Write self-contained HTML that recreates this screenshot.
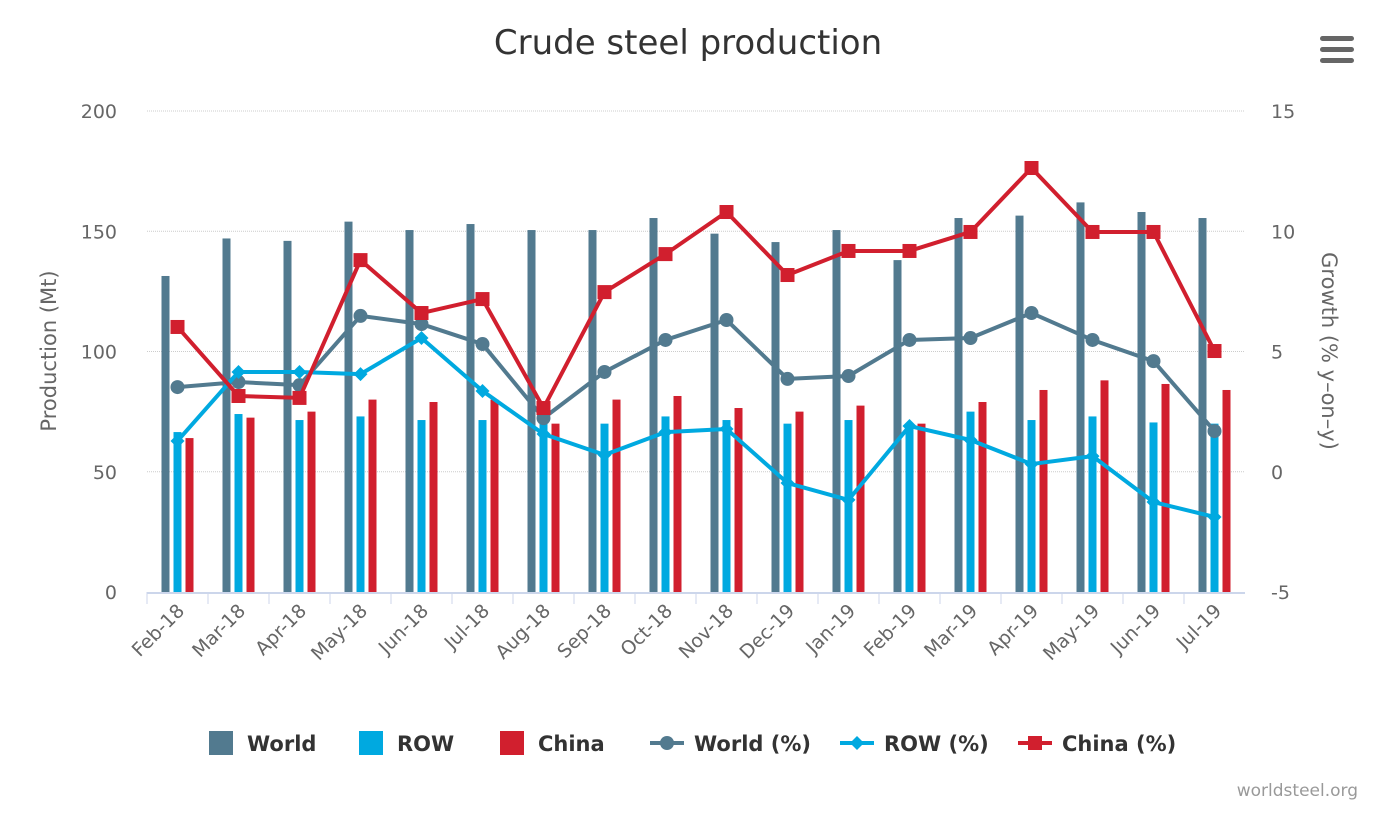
<!DOCTYPE html>
<html><head><meta charset="utf-8"><style>
body{margin:0;background:#fff;font-family:"Liberation Sans","DejaVu Sans",sans-serif}
svg text{font-family:"DejaVu Sans","Liberation Sans",sans-serif}
</style></head><body>
<svg id="c" width="1377" height="822">
<text x="688" y="54" text-anchor="middle" font-size="34" fill="#333">Crude steel production</text>
<g fill="#666">
<rect x="1320" y="36" width="34" height="5" rx="2.5"/><rect x="1320" y="47" width="34" height="5" rx="2.5"/><rect x="1320" y="58" width="34" height="5" rx="2.5"/></g>
<text x="1358" y="796" text-anchor="end" font-size="17" fill="#999">worldsteel.org</text>
<text transform="translate(56,351) rotate(-90)" text-anchor="middle" font-size="21" fill="#666">Production (Mt)</text>
<text transform="translate(1322,351) rotate(90)" text-anchor="middle" font-size="21" fill="#666">Growth (% y–on–y)</text>
<g id="grid"></g><g id="bars"></g><g id="lines"></g><g id="axes"></g><g id="legend"></g>
</svg>
<script>
const categories=["Feb-18","Mar-18","Apr-18","May-18","Jun-18","Jul-18","Aug-18","Sep-18","Oct-18","Nov-18","Dec-19","Jan-19","Feb-19","Mar-19","Apr-19","May-19","Jun-19","Jul-19"];
const worldProd=[131.4,147,146,154,150.5,153,150.5,150.5,155.5,149,145.5,150.5,138,155.5,156.5,162,158,155.5];
const rowProd=[66.5,74,71.5,73,71.5,71.5,70,70,73,71.5,70,71.5,70,75,71.5,73,70.5,70];
const chinaProd=[64,72.5,75,80,79,80,70,80,81.5,76.5,75,77.5,70,79,84,88,86.5,84];
const worldPct=[3.52,3.73,3.6,6.48,6.14,5.31,2.23,4.15,5.48,6.31,3.86,3.98,5.48,5.56,6.6,5.48,4.6,1.69];
const rowPct=[1.28,4.15,4.15,4.06,5.56,3.36,1.57,0.7,1.65,1.78,-0.47,-1.17,1.9,1.32,0.32,0.65,-1.26,-1.88];
const chinaPct=[6.02,3.15,3.07,8.8,6.6,7.18,2.65,7.47,9.05,10.8,8.18,9.18,9.18,9.97,12.63,9.97,9.97,5.02];
const leftTicks=[0,50,100,150,200];
const rightTicks=[-5,0,5,10,15];
const NS="http://www.w3.org/2000/svg";
const X0=147,X1=1245,Y0=592,Y1=111;
const bw=(X1-X0)/categories.length;
const xC=i=>X0+bw*(i+0.5);
const yL=v=>Y0-(v/200)*(Y0-Y1);
const yR=v=>Y0-((v+5)/20)*(Y0-Y1);
function mk(tag,attrs,parent){const e=document.createElementNS(NS,tag);for(const k in attrs)e.setAttribute(k,attrs[k]);document.getElementById(parent).appendChild(e);return e;}
leftTicks.forEach((t,i)=>{
 if(t>0){const g=mk('line',{x1:X0,x2:X1,y1:yL(t),y2:yL(t),stroke:'#ccc','stroke-width':1,'stroke-dasharray':'1,1'},'grid');
 
 }
 const l=mk('text',{x:117,y:yL(t)+7,'text-anchor':'end','font-size':19,fill:'#666'},'axes');l.textContent=t;
 
 
 const r=mk('text',{x:1271,y:yR(rightTicks[i])+7,'font-size':19,fill:'#666'},'axes');r.textContent=rightTicks[i];
 
 
});
const ax=mk('line',{x1:X0,x2:X1,y1:Y0+1,y2:Y0+1,stroke:'#ccd6eb','stroke-width':2},'axes');


categories.forEach((c,i)=>{
 const tk=mk('line',{x1:X0+bw*i,x2:X0+bw*i,y1:Y0,y2:Y0+12,stroke:'#ccd6eb','stroke-width':1},'axes');
 
 
 const t=mk('text',{transform:`translate(${xC(i)+8},${Y0+20}) rotate(-45)`,'text-anchor':'end','font-size':19,fill:'#666'},'axes');t.textContent=c;
 
 
 [[worldProd,'#527a8f',-12,'bar-world'],[rowProd,'#00a9e0',0,'bar-row'],[chinaProd,'#d11f2e',12,'bar-china']].forEach(([arr,col,off,nm])=>{
  const b=mk('rect',{x:xC(i)+off-4,y:yL(arr[i]),width:8,height:Y0-yL(arr[i]),fill:col},'bars');
  
  
 });
});
function series(arr,col,shape,nm){
 const p=mk('polyline',{points:arr.map((v,i)=>xC(i)+','+yR(v)).join(' '),fill:'none',stroke:col,'stroke-width':4,'stroke-linejoin':'round'},'lines');
 
 
 arr.forEach((v,i)=>{marker(xC(i),yR(v),col,shape,nm+'-point','lines');});
}
function marker(x,y,col,shape,nm,par){
 let m;
 if(shape==='circle')m=mk('circle',{cx:x,cy:y,r:7,fill:col},par);
 else if(shape==='square')m=mk('rect',{x:x-7,y:y-7,width:14,height:14,fill:col},par);
 else m=mk('polygon',{points:`${x},${y-7} ${x+7},${y} ${x},${y+7} ${x-7},${y}`,fill:col},par);
 
 
}
series(worldPct,'#527a8f','circle','world-pct');
series(rowPct,'#00a9e0','diamond','row-pct');
series(chinaPct,'#d11f2e','square','china-pct');
const leg=[['World','#527a8f','bar',209],['ROW','#00a9e0','bar',359],['China','#d11f2e','bar',500],['World (%)','#527a8f','circle',650],['ROW (%)','#00a9e0','diamond',840],['China (%)','#d11f2e','square',1018]];
leg.forEach(([n,col,s,x])=>{
 const y=743;
 if(s==='bar'){const r=mk('rect',{x:x,y:y-12,width:24,height:24,fill:col},'legend');
  
  }
 else{const l=mk('line',{x1:x,x2:x+34,y1:y,y2:y,stroke:col,'stroke-width':4},'legend');
  
  
  marker(x+17,y,col,s,'legend-marker','legend');}
 const t=mk('text',{x:x+(s==='bar'?38:44),y:y+8,'font-size':21,'font-weight':'bold',fill:'#333'},'legend');t.textContent=n;
 
 
});
</script>
</body></html>
